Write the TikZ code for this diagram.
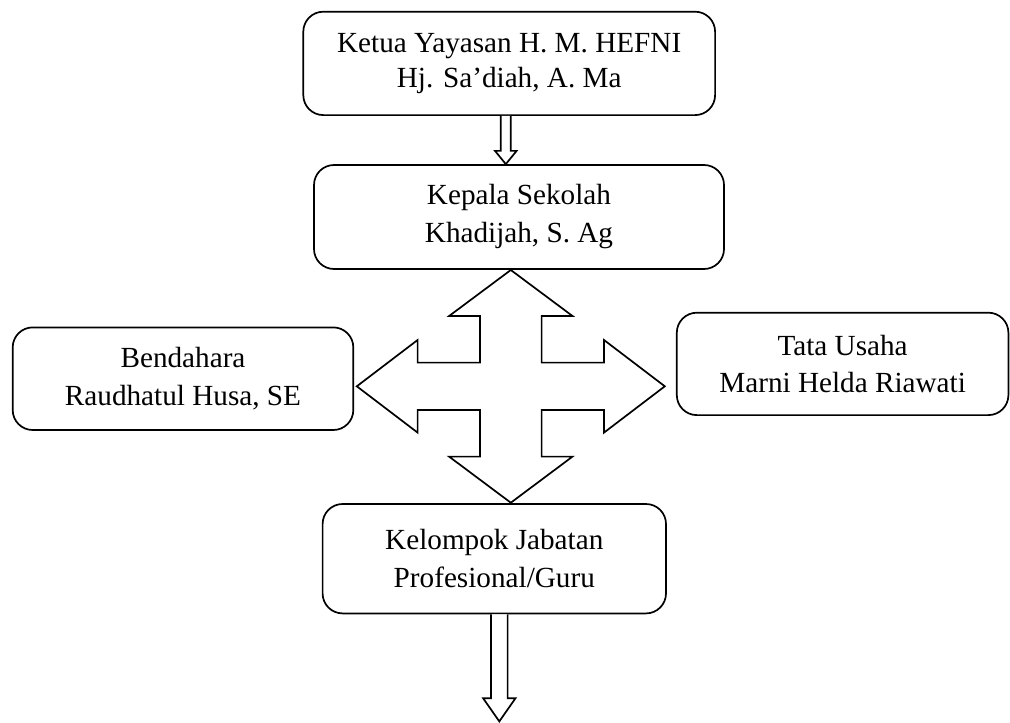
\documentclass[tikz,border=0pt]{standalone}
\usepackage{fontspec}
\setmainfont{Liberation Serif}
\usetikzlibrary{calc}
\begin{document}
\begin{tikzpicture}[x=0.5pt,y=-0.5pt,
  box/.style={draw, line width=0.85pt, rounded corners=10pt, align=center, inner sep=0pt,
    font=\fontsize{14.6}{19}\selectfont},
  hollow/.style={draw, line width=0.85pt, line join=miter, fill=white}]
\useasboundingbox (0,0) rectangle (1010,722);

\node[box, minimum width=205.9pt, minimum height=51.7pt, font=\fontsize{14.6}{17.5}\selectfont] (ketua) at (509.2,63.4)
  {Ketua Yayasan H. M. HEFNI\\Hj. Sa’diah, A. Ma};
\node[box, minimum width=205pt, minimum height=52pt] (kepala) at (519,217)
  {Kepala Sekolah\\Khadijah, S. Ag};
\node[box, minimum width=170.3pt, minimum height=51.3pt] (bendahara) at (183,378.7)
  {Bendahara\\Raudhatul Husa, SE};
\node[box, minimum width=165.8pt, minimum height=51.2pt, font=\fontsize{14.6}{18.3}\selectfont] (tu) at (842.6,363.9)
  {Tata Usaha\\Marni Helda Riawati};
\node[box, minimum width=171.7pt, minimum height=54.7pt] (kelompok) at (494.3,558.7)
  {Kelompok Jabatan\\Profesional/Guru};

% top hollow arrow
\coordinate (a1) at ($(ketua.south)+(-3.4,0)$);
\coordinate (a1t) at (a1 |- kepala.north);
\draw[hollow] ($(a1)+(-5,0)$) -- ($(a1t)+(-5,-13.3)$) -- ($(a1t)+(-10.8,-13.3)$) -- (a1t)
  -- ($(a1t)+(10.8,-13.3)$) -- ($(a1t)+(5,-13.3)$) -- ($(a1)+(5,0)$);

% four-way arrow
\coordinate (c) at (510.8,386.3);
\begin{scope}[shift={(c)}]
\draw[hollow] (0,-116.3) -- (61.7,-70.3) -- (30.8,-70.3) -- (30.8,-23.7) -- (93.2,-23.7)
  -- (93.2,-46.3) -- (154,0) -- (93.2,46.3) -- (93.2,23.7) -- (30.8,23.7) -- (30.8,70.3)
  -- (61.7,70.3) -- (0,116.4) -- (-61.7,70.3) -- (-30.8,70.3) -- (-30.8,23.7) -- (-93.2,23.7)
  -- (-93.2,46.3) -- (-154,0) -- (-93.2,-46.3) -- (-93.2,-23.7) -- (-30.8,-23.7)
  -- (-30.8,-70.3) -- (-61.7,-70.3) -- cycle;
\end{scope}

% bottom hollow arrow
\coordinate (b1) at ($(kelompok.south)+(5,0)$);
\coordinate (b1t) at (499.3,721.4);
\draw[hollow] ($(b1)+(-8.3,0)$) -- ($(b1t)+(-8.3,-23.2)$) -- ($(b1t)+(-16.2,-23.2)$) -- (b1t)
  -- ($(b1t)+(16.2,-23.2)$) -- ($(b1t)+(8.3,-23.2)$) -- ($(b1)+(8.3,0)$);
\end{tikzpicture}
\end{document}
